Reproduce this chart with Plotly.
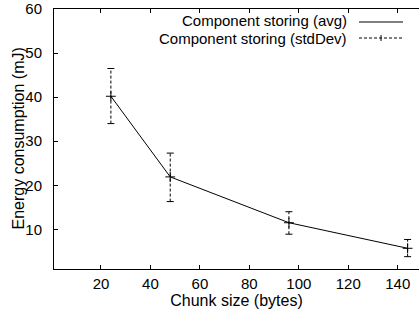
import plotly.graph_objects as go

# Data
chunk_size = [24, 48, 96, 144]
energy_avg = [40.2, 21.9, 11.5, 5.7]
energy_low = [34.0, 16.3, 8.9, 3.8]
energy_high = [46.5, 27.3, 14.0, 7.7]
x_ticks = [20, 40, 60, 80, 100, 120, 140]
y_ticks = [10, 20, 30, 40, 50, 60]
legend_labels = ["Component storing (avg)", "Component storing (stdDev)"]
x_title = "Chunk size (bytes)"
y_title = "Energy consumption (mJ)"

FONT = "Liberation Sans, Arial, Helvetica, sans-serif"
FS = 15
FS_T = 16
FS_L = 15

W, H = 419, 316
ML, MR, MT, MB = 54, 0, 9, 47
PW = W - ML - MR
PH = H - MT - MB

fig = go.Figure()

# error bar vertical dashed segments
ex, ey = [], []
for xv, lo, hi in zip(chunk_size, energy_low, energy_high):
    ex += [xv, xv, None]
    ey += [lo, hi, None]
fig.add_trace(go.Scatter(x=ex, y=ey, mode="lines",
                         line=dict(color="black", width=1, dash="3px,2px"),
                         showlegend=False, hoverinfo="skip"))
# caps
fig.add_trace(go.Scatter(x=chunk_size + chunk_size, y=energy_low + energy_high, mode="markers",
                         marker=dict(symbol="line-ew", size=5, line=dict(color="black", width=1)),
                         showlegend=False, hoverinfo="skip"))
# avg line
fig.add_trace(go.Scatter(x=chunk_size, y=energy_avg, mode="lines",
                         line=dict(color="black", width=1), name=legend_labels[0],
                         showlegend=False))
# center crosses for stdDev series
fig.add_trace(go.Scatter(x=chunk_size, y=energy_avg, mode="markers",
                         marker=dict(symbol="cross-thin", size=7, line=dict(color="black", width=1)),
                         name=legend_labels[1], showlegend=False))

def px_x(p):
    return (p - ML) / PW

def px_y(p):
    return (H - MB - p) / PH

# custom gnuplot-style legend (text left, sample right)
text_right = px_x(348)
rows = [21, 38]
for lbl, yy in zip(legend_labels, rows):
    fig.add_annotation(x=text_right, y=px_y(yy), xref="paper", yref="paper",
                       text=lbl, showarrow=False, xanchor="right", yanchor="middle",
                       borderpad=0,
                       font=dict(family=FONT, size=FS_L, color="black"))
fig.add_shape(type="line", xref="paper", yref="paper",
              x0=px_x(359), x1=px_x(403), y0=px_y(rows[0] + 1), y1=px_y(rows[0] + 1),
              line=dict(color="black", width=1))
fig.add_shape(type="line", xref="paper", yref="paper",
              x0=px_x(359), x1=px_x(403), y0=px_y(rows[1]), y1=px_y(rows[1]),
              line=dict(color="black", width=1, dash="3px,2px"))
fig.add_shape(type="line", xref="paper", yref="paper",
              x0=px_x(381), x1=px_x(381), y0=px_y(rows[1] - 3), y1=px_y(rows[1] + 3),
              line=dict(color="black", width=1))

# y axis title placed like gnuplot's
fig.add_annotation(x=px_x(17.5), y=0.5, xref="paper", yref="paper",
                   text=y_title, textangle=-90, showarrow=False,
                   xanchor="center", yanchor="middle", borderpad=0,
                   font=dict(family=FONT, size=FS_T, color="black"))

fig.update_layout(
    width=W, height=H,
    margin=dict(l=ML, r=MR, t=MT, b=MB),
    paper_bgcolor="white", plot_bgcolor="white",
    font=dict(family=FONT, size=FS, color="black"),
    showlegend=False,
    xaxis=dict(range=[1, 148.6], tickvals=x_ticks, ticks="inside", ticklen=4,
               tickcolor="black", showline=True, linecolor="black", linewidth=1,
               mirror="ticks", showgrid=False, zeroline=False,
               ticklabelstandoff=1,
               title=dict(text=x_title, standoff=0,
                          font=dict(family=FONT, size=FS_T))),
    yaxis=dict(range=[1, 60], tickvals=y_ticks, ticks="inside", ticklen=4,
               tickcolor="black", showline=True, linecolor="black", linewidth=1,
               showgrid=False, zeroline=False, ticklabelstandoff=8),
)

fig.write_html("out.html", config={"displayModeBar": False},
               post_script="document.body.style.margin='0';")
